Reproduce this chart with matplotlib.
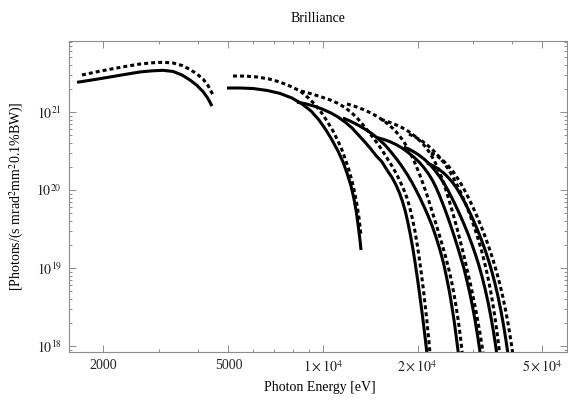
import matplotlib
matplotlib.use("Agg")
import matplotlib.pyplot as plt
from matplotlib.ticker import FixedLocator, FixedFormatter, NullFormatter

plt.rcParams['font.family'] = ['Liberation Serif', 'DejaVu Serif']
plt.rcParams['mathtext.fontset'] = 'stix'

# ---------- data: photon energy [eV] / brilliance, one pair per harmonic ----------
# harmonic 1
e_h1 = [1647, 1879, 2097, 2341, 2613, 2854, 3094, 3329, 3556, 3771, 3969, 4148, 4303, 4431]
b_h1 = [2.40e21, 2.61e21, 2.81e21, 3.03e21, 3.26e21, 3.37e21, 3.42e21, 3.31e21, 2.98e21, 2.57e21,
        2.19e21, 1.83e21, 1.49e21, 1.19e21]
e_h1d = [1708, 1893, 2097, 2341, 2613, 2854, 3094, 3329, 3556, 3771, 3969, 4148, 4303, 4464]
b_h1d = [2.98e21, 3.26e21, 3.53e21, 3.83e21, 4.12e21, 4.27e21, 4.34e21, 4.25e21, 3.95e21, 3.51e21,
         3.07e21, 2.65e21, 2.19e21, 1.65e21]

# harmonic 3
e_h3 = [4946, 5441, 5985, 6632, 7296, 7967, 8573, 9158, 9711, 10222, 10682, 11163, 11580, 11924,
        12279, 12553, 12785, 12973, 13117, 13214]
b_h3 = [2.03e21, 2.03e21, 2.00e21, 1.89e21, 1.73e21, 1.51e21, 1.27e21, 1.03e21, 7.90e20, 5.88e20,
        4.38e20, 3.16e20, 2.29e20, 1.65e20, 1.13e20, 7.67e19, 5.07e19, 3.26e19, 2.29e19, 1.70e19]
e_h3d = [5169, 5644, 6163, 6730, 7296, 7908, 8448, 8958, 9430, 9854, 10298, 10761, 11163, 11495,
         11837, 12100, 12370, 12645, 12832, 13021, 13214]
b_h3d = [2.89e21, 2.89e21, 2.81e21, 2.65e21, 2.42e21, 2.12e21, 1.86e21, 1.53e21, 1.25e21, 1.00e21,
         7.67e20, 5.71e20, 4.25e20, 3.26e20, 2.35e20, 1.80e20, 1.30e20, 8.89e19, 6.42e19, 4.38e19, 2.65e19]

# harmonic 5
e_h5 = [8264, 8828, 9430, 10000, 10604, 11163, 11751, 12370, 12926, 13508, 14115, 14750, 15413,
        15989, 16586, 17080, 17525, 17915, 18312, 18651, 18997, 19349, 19678, 19998, 20307, 20607,
        20896, 21173, 21440, 21646]
b_h5 = [1.34e21, 1.27e21, 1.18e21, 1.08e21, 9.71e20, 8.63e20, 7.44e20, 6.24e20, 5.15e20, 4.25e20,
        3.46e20, 2.77e20, 2.29e20, 1.80e20, 1.45e20, 1.16e20, 9.15e19, 7.12e19, 5.22e19, 3.78e19,
        2.61e19, 1.73e19, 1.13e19, 7.23e18, 4.64e18, 2.98e18, 1.91e18, 1.23e18, 7.90e17, 5.54e17]
e_h5d = [8510, 9091, 9782, 10527, 11163, 11751, 12370, 12926, 13508, 14115, 14750, 15413, 15989,
         16586, 17080, 17588, 18046, 18514, 18928, 19291, 19635, 19954, 20262, 20562, 20851, 21127,
         21393, 21646, 21885, 22078]
b_h5d = [1.86e21, 1.73e21, 1.58e21, 1.43e21, 1.29e21, 1.14e21, 9.71e20, 8.13e20, 6.61e20, 5.30e20,
         4.19e20, 3.26e20, 2.57e20, 2.03e20, 1.65e20, 1.30e20, 1.03e20, 7.90e19, 5.79e19, 4.19e19,
         2.94e19, 2.00e19, 1.32e19, 8.63e18, 5.54e18, 3.51e18, 2.22e18, 1.38e18, 8.63e17, 5.71e17]

# harmonic 7
e_h7 = [11580, 12190, 12832, 13508, 14219, 14968, 15757, 16465, 17206, 17849, 18514, 19206, 19779,
        20367, 20973, 21598, 22240, 22902, 23584, 24196, 24735, 25285, 25754, 26191, 26579, 26952, 27230]
b_h7 = [8.38e20, 7.67e20, 6.91e20, 6.14e20, 5.38e20, 4.57e20, 3.78e20, 3.07e20, 2.46e20, 2.00e20,
        1.60e20, 1.25e20, 1.00e20, 7.90e19, 6.14e19, 4.71e19, 3.51e19, 2.50e19, 1.70e19, 1.16e19,
        7.67e18, 4.92e18, 3.16e18, 2.03e18, 1.30e18, 8.38e17, 5.71e17]
e_h7d = [11924, 12645, 13409, 14219, 15078, 15873, 16709, 17461, 18113, 18719, 19276, 19779, 20292,
         20820, 21361, 21916, 22569, 23241, 23932, 24645, 25285, 25849, 26327, 26775, 27170, 27510,
         27815, 28019]
b_h7d = [1.27e21, 1.18e21, 1.08e21, 9.71e20, 8.50e20, 7.33e20, 6.14e20, 5.07e20, 4.12e20, 3.31e20,
         2.61e20, 2.06e20, 1.60e20, 1.21e20, 9.02e19, 6.52e19, 4.44e19, 3.03e19, 2.03e19, 1.34e19,
         8.89e18, 5.88e18, 3.89e18, 2.57e18, 1.70e18, 1.13e18, 7.44e17, 5.38e17]

# harmonic 9
e_h9 = [14858, 15641, 16345, 17080, 17849, 18651, 19491, 20218, 20973, 21677, 22322, 22902, 23498,
        24108, 24735, 25379, 26038, 26716, 27410, 28123, 28748, 29388, 29976, 30530, 31049, 31530, 31950]
b_h9 = [4.71e20, 4.44e20, 4.16e20, 3.83e20, 3.46e20, 3.04e20, 2.63e20, 2.29e20, 1.93e20, 1.61e20,
        1.33e20, 1.08e20, 8.50e19, 6.56e19, 4.98e19, 3.72e19, 2.73e19, 1.97e19, 1.40e19, 9.85e18,
        6.81e18, 4.64e18, 3.12e18, 2.09e18, 1.38e18, 9.15e17, 6.05e17]
e_h9d = [15301, 16107, 16955, 17849, 18789, 19635, 20517, 21283, 21996, 22652, 23241, 23844, 24375,
         24917, 25472, 26038, 26618, 27209, 27815, 28434, 29066, 29713, 30329, 30935, 31507, 32043,
         32564, 32804]
b_h9d = [8.01e20, 7.51e20, 6.93e20, 6.31e20, 5.59e20, 4.88e20, 4.15e20, 3.52e20, 2.89e20, 2.35e20,
         1.89e20, 1.47e20, 1.14e20, 8.63e19, 6.42e19, 4.71e19, 3.40e19, 2.42e19, 1.70e19, 1.18e19,
         8.01e18, 5.38e18, 3.61e18, 2.39e18, 1.58e18, 1.05e18, 6.91e17, 5.54e17]

# harmonic 11
e_h11 = [18113, 19067, 20071, 20973, 21916, 22735, 23584, 24286, 25009, 25754, 26521, 27310, 28123,
         28960, 29822, 30709, 31392, 32090, 32804, 33534, 34280, 34914, 35430, 35953, 36217]
b_h11 = [3.56e20, 3.24e20, 2.86e20, 2.50e20, 2.12e20, 1.78e20, 1.46e20, 1.22e20, 9.91e19, 7.87e19,
         6.18e19, 4.79e19, 3.65e19, 2.74e19, 2.00e19, 1.42e19, 1.07e19, 7.78e18, 5.46e18, 3.67e18,
         2.33e18, 1.52e18, 1.04e18, 6.77e17, 5.38e17]
e_h11d = [18789, 19779, 20820, 21757, 22735, 23584, 24465, 25193, 25943, 26716, 27510, 28330, 29173,
          30041, 30935, 31856, 32564, 33288, 34029, 34659, 35300, 35822, 36351, 36752, 36969]
b_h11d = [5.22e20, 4.71e20, 4.15e20, 3.61e20, 3.05e20, 2.59e20, 2.14e20, 1.79e20, 1.46e20, 1.17e20,
          9.13e19, 6.96e19, 5.18e19, 3.74e19, 2.63e19, 1.77e19, 1.26e19, 8.63e18, 5.59e18, 3.70e18,
          2.31e18, 1.51e18, 9.40e17, 6.44e17, 5.22e17]

# harmonic 13
e_h13 = [21440, 22404, 23412, 24286, 25193, 25943, 26716, 27510, 28330, 29173, 30041, 30935, 31856,
         32804, 33780, 34532, 35300, 36085, 36888, 37570, 38265, 38831, 39260]
b_h13 = [2.22e20, 2.05e20, 1.84e20, 1.64e20, 1.41e20, 1.23e20, 1.04e20, 8.50e19, 6.83e19, 5.40e19,
         4.19e19, 3.19e19, 2.38e19, 1.72e19, 1.20e19, 8.86e18, 6.33e18, 4.32e18, 2.80e18, 1.86e18,
         1.18e18, 7.85e17, 5.71e17]
e_h13d = [22078, 23071, 24108, 25009, 25943, 26716, 27510, 28330, 29173, 30041, 30935, 31856, 32804,
          33780, 34786, 35822, 36618, 37433, 38265, 38974, 39694, 40281, 40726]
b_h13d = [2.98e20, 2.73e20, 2.39e20, 2.06e20, 1.73e20, 1.45e20, 1.20e20, 9.68e19, 7.69e19, 6.00e19,
          4.60e19, 3.47e19, 2.55e19, 1.83e19, 1.28e19, 8.55e18, 6.11e18, 4.17e18, 2.70e18, 1.80e18,
          1.14e18, 7.58e17, 5.44e17]

solid = [(e_h1, b_h1), (e_h3, b_h3), (e_h5, b_h5), (e_h7, b_h7), (e_h9, b_h9), (e_h11, b_h11), (e_h13, b_h13)]
dashed = [(e_h1d, b_h1d), (e_h3d, b_h3d), (e_h5d, b_h5d), (e_h7d, b_h7d), (e_h9d, b_h9d), (e_h11d, b_h11d), (e_h13d, b_h13d)]

x_major = [2000, 5000, 1e4, 2e4, 5e4]
x_labels = ['2000', '5000', r'$1\times10^4$', r'$2\times10^4$', r'$5\times10^4$']
x_minor = [3000, 4000, 6000, 7000, 8000, 9000, 3e4, 4e4]
y_major = [1e18, 1e19, 1e20, 1e21]
y_labels = [r'$10^{18}$', r'$10^{19}$', r'$10^{20}$', r'$10^{21}$']

# ---------- plot ----------
fig = plt.figure(figsize=(5.68, 4.01), dpi=100)
ax = fig.add_axes([69/568, 49/401, 498/568, 311/401])

for e, b in solid:
    ax.plot(e, b, color='black', lw=2.2, solid_capstyle='butt', solid_joinstyle='round')
for e, b in dashed:
    ax.plot(e, b, color='black', lw=2.2, linestyle=(0, (1.3, 1.0)), dash_capstyle='butt')

ax.set_xscale('log')
ax.set_yscale('log')
ax.set_xlim(1553, 59850)
ax.set_ylim(8.38e17, 8.13e21)

ax.xaxis.set_major_locator(FixedLocator(x_major))
ax.xaxis.set_major_formatter(FixedFormatter(x_labels))
ax.xaxis.set_minor_locator(FixedLocator(x_minor))
ax.xaxis.set_minor_formatter(NullFormatter())
ax.yaxis.set_major_locator(FixedLocator(y_major))
ax.yaxis.set_major_formatter(FixedFormatter(y_labels))
ax.yaxis.set_minor_locator(FixedLocator([m * 10.0**k for k in range(17, 22) for m in range(2, 10)]))
ax.yaxis.set_minor_formatter(NullFormatter())

gray = '#8c8c8c'
for s in ax.spines.values():
    s.set_color(gray)
    s.set_linewidth(0.8)
ax.tick_params(which='both', direction='in', top=True, right=True, color=gray, width=0.7,
               labelsize=10, labelcolor='#222222')
ax.tick_params(which='major', length=5, pad=5)
ax.tick_params(which='minor', length=2.5)

fig.text(318/568, 1 - 18/401, 'Brilliance', ha='center', va='center', fontsize=10)
fig.text(320/568, 1 - 388/401, 'Photon Energy [eV]', ha='center', va='center', fontsize=10)
fig.text(17/568, 1 - 196/401, r'[Photons/(s mrad$^2$mm$^2$0.1%BW)]', ha='center', va='center',
         rotation=90, fontsize=10)

fig.savefig('out.png', dpi=100)
